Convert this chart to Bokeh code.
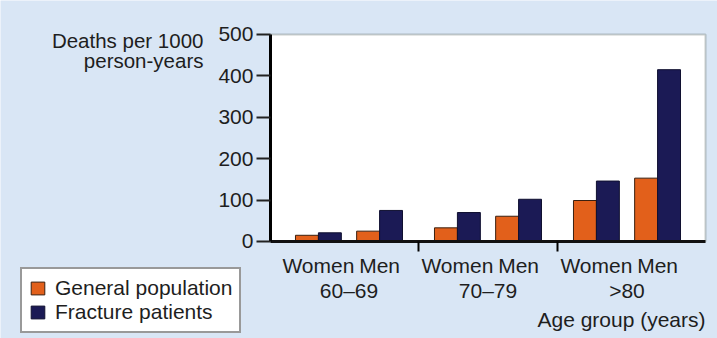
from bokeh.plotting import figure
from bokeh.models import (Range1d, FixedTicker, Label, LabelSet, ColumnDataSource,
                          Legend, LegendItem, BoxAnnotation)
from bokeh.core.properties import value
from bokeh.embed import file_html
from bokeh.resources import INLINE

# ---- data ----
age_groups = ["60\u201369", "70\u201379", ">80"]
sexes = ["Women", "Men"]
general_population = [15, 25, 33, 61, 99, 153]   # W,M per age group
fracture_patients = [21, 75, 70, 102, 146, 415]
y_ticks = [0, 100, 200, 300, 400, 500]
series_names = ["General population", "Fracture patients"]

ORANGE = "#e2601b"
NAVY = "#1b1a55"
BG = "#d9e6f5"
FONT = "Liberation Sans"
FS = "21px"
TXT = "#1e1e1e"

# plot-area extent in data units
X0, X1 = 0.435, 3.565
Y0, Y1 = 0, 500

sex_off = 0.22
ser_off = 0.0825
bar_w = 0.165

xs_g, xs_f, sex_x, sex_lab = [], [], [], []
for gi, _ in enumerate(age_groups):
    for si, s in enumerate(sexes):
        cx = gi + 1 + (-sex_off if si == 0 else sex_off)
        xs_g.append(cx - ser_off)
        xs_f.append(cx + ser_off)
        sex_x.append(cx)
        sex_lab.append(s)

p = figure(width=717, height=338, output_backend="svg", toolbar_location=None,
           x_range=Range1d(-1.5072, 3.6511), y_range=Range1d(-234.3, 582.1),
           min_border=0)
p.border_fill_color = BG
p.background_fill_color = BG
p.outline_line_color = None
p.grid.visible = False

# white plotting area with its frame
p.add_layout(BoxAnnotation(left=X0, right=X1, bottom=Y0, top=Y1,
                           fill_color="white", fill_alpha=1,
                           line_color="#4d5a52", line_width=2, level="underlay"))

src_g = ColumnDataSource(dict(x=xs_g, top=general_population))
src_f = ColumnDataSource(dict(x=xs_f, top=fracture_patients))
rg = p.vbar(x="x", top="top", width=bar_w, source=src_g, fill_color=ORANGE,
            line_color="#3a2010", line_width=1)
rf = p.vbar(x="x", top="top", width=bar_w, source=src_f, fill_color=NAVY,
            line_color="#101030", line_width=1)

# y axis
ya = p.yaxis[0]
ya.fixed_location = X0
ya.bounds = (Y0, Y1)
ya.ticker = FixedTicker(ticks=y_ticks)
ya.minor_tick_line_color = None
ya.axis_line_width = 3
ya.axis_line_color = "black"
ya.major_tick_out = 14
ya.major_tick_in = 0
ya.major_tick_line_width = 2
ya.major_tick_line_color = "#222"
ya.major_label_standoff = 3
ya.major_label_text_font = FONT
ya.major_label_text_font_size = FS
ya.major_label_text_color = TXT

# x axis
xa = p.xaxis[0]
xa.fixed_location = Y0
xa.bounds = (X0, X1)
xa.ticker = FixedTicker(ticks=[1.5, 2.5])
xa.minor_tick_line_color = None
xa.axis_line_width = 3
xa.axis_line_color = "#111"
xa.major_tick_out = 10
xa.major_tick_in = 0
xa.major_tick_line_width = 2
xa.major_label_overrides = {1.5: "", 2.5: ""}

# category labels
sex_src = ColumnDataSource(dict(x=sex_x, y=[-58] * len(sex_x), t=sex_lab))
p.add_layout(LabelSet(x="x", y="y", text="t", source=sex_src, text_align="center",
                      text_baseline="middle", text_font_size=value(FS),
                      text_font=value(FONT), text_color=TXT))
age_src = ColumnDataSource(dict(x=[i + 1 for i in range(len(age_groups))],
                                y=[-119] * len(age_groups), t=age_groups))
p.add_layout(LabelSet(x="x", y="y", text="t", source=age_src, text_align="center",
                      text_baseline="middle", text_font_size=value(FS),
                      text_font=value(FONT), text_color=TXT))

p.add_layout(Label(x=X1, y=-189, text="Age group (years)", text_align="right",
                   text_baseline="middle", text_font_size=FS, text_font=FONT,
                   text_color=TXT))
p.add_layout(Label(x=-0.047, y=485, text="Deaths per 1000", text_align="right",
                   text_baseline="middle", text_font_size="20.5px", text_font=FONT,
                   text_color=TXT))
p.add_layout(Label(x=-0.047, y=437, text="person-years", text_align="right",
                   text_baseline="middle", text_font_size="20.5px", text_font=FONT,
                   text_color=TXT))

legend = Legend(items=[LegendItem(label=series_names[0], renderers=[rg]),
                       LegendItem(label=series_names[1], renderers=[rf])],
                location=(20, 5))
legend.label_text_font = FONT
legend.label_text_font_size = FS
legend.label_text_color = TXT
legend.glyph_width = 17
legend.glyph_height = 16
legend.label_standoff = 9
legend.spacing = 0
legend.padding = 7
legend.margin = 0
legend.border_line_color = "#333"
legend.border_line_width = 2
legend.background_fill_color = "white"
legend.background_fill_alpha = 1
p.add_layout(legend)

open("out.html", "w").write(file_html(p, INLINE))
